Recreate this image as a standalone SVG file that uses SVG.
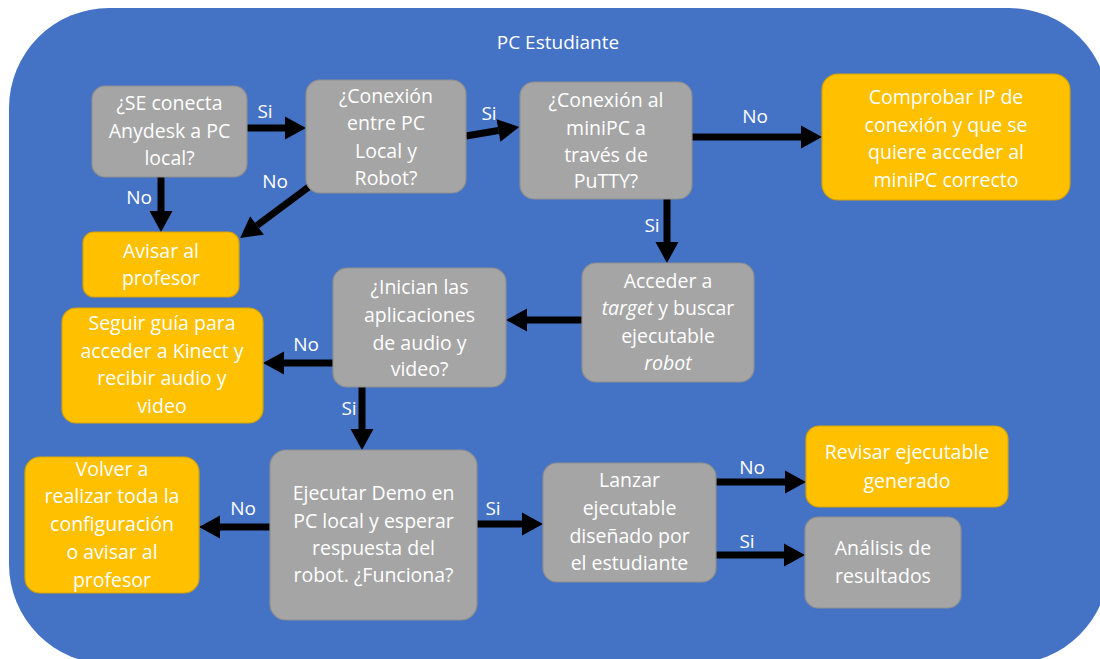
<svg xmlns="http://www.w3.org/2000/svg" width="1100" height="659" viewBox="0 0 1100 659">
  <defs>
    <style>
      .bg { fill: #4472C4; }
      .q { fill: #A5A5A5; stroke: #8F8F8F; stroke-width: 1.2; }
      .a { fill: #FFC000; stroke: #D9A400; stroke-width: 1.2; }
      text { font-family: "Open Sans", "Liberation Sans", Arial, sans-serif; font-size: 19.5px; fill: #FFFFFF; text-anchor: middle; }
      .title { font-size: 19px; }
      .lbl { font-size: 19px; }
      .edge { stroke: #000000; stroke-width: 7; fill: none; marker-end: url(#head); }
    </style>
    <marker id="head" markerUnits="userSpaceOnUse" markerWidth="22" markerHeight="24" refX="0" refY="11.5" orient="auto" overflow="visible">
      <path d="M0,0 L21,11.5 L0,23 Z" fill="#000000"/>
    </marker>
  </defs>

  <!-- container -->
  <rect class="bg" x="9" y="8" width="1100" height="656" rx="100" ry="100"/>
  <text class="title" x="558" y="49">PC Estudiante</text>

  <!-- connectors -->
  <g id="connectors">
    <line class="edge" x1="247" y1="128" x2="285" y2="128"/>
    <line class="edge" x1="161" y1="177" x2="161" y2="211"/>
    <line class="edge" x1="310" y1="186" x2="257" y2="225.5"/>
    <line class="edge" x1="466" y1="136" x2="498.5" y2="130.5"/>
    <line class="edge" x1="692" y1="137" x2="801" y2="137"/>
    <line class="edge" x1="667" y1="199" x2="667" y2="242"/>
    <line class="edge" x1="582" y1="320" x2="527" y2="320"/>
    <line class="edge" x1="333" y1="363" x2="284" y2="363"/>
    <line class="edge" x1="362" y1="387" x2="362" y2="429"/>
    <line class="edge" x1="270" y1="527" x2="220" y2="527"/>
    <line class="edge" x1="477" y1="524" x2="522" y2="524"/>
    <line class="edge" x1="716" y1="482" x2="785" y2="482"/>
    <line class="edge" x1="716" y1="555" x2="784" y2="555"/>

    <text class="lbl" x="265" y="118">Si</text>
    <text class="lbl" x="139" y="204">No</text>
    <text class="lbl" x="275" y="188">No</text>
    <text class="lbl" x="489" y="120">Si</text>
    <text class="lbl" x="755" y="123">No</text>
    <text class="lbl" x="652" y="232">Si</text>
    <text class="lbl" x="306" y="351">No</text>
    <text class="lbl" x="349" y="415">Si</text>
    <text class="lbl" x="243" y="515">No</text>
    <text class="lbl" x="493" y="515">Si</text>
    <text class="lbl" x="752" y="474">No</text>
    <text class="lbl" x="747" y="548">Si</text>
  </g>

  <g id="anydesk">
    <rect class="q" x="92" y="86" width="155" height="91" rx="13"/>
    <text x="169.5" y="110">¿SE conecta</text>
    <text x="169.5" y="138">Anydesk a PC</text>
    <text x="169.5" y="165">local?</text>
  </g>

  <g id="pc-robot">
    <rect class="q" x="306" y="80" width="160" height="113" rx="14"/>
    <text x="386" y="103">¿Conexión</text>
    <text x="386" y="130">entre PC</text>
    <text x="386" y="158">Local y</text>
    <text x="386" y="185">Robot?</text>
  </g>

  <g id="putty">
    <rect class="q" x="520" y="82" width="172" height="117" rx="14"/>
    <text x="606" y="107">¿Conexión al</text>
    <text x="606" y="135">miniPC a</text>
    <text x="606" y="162">través de</text>
    <text x="606" y="188">PuTTY?</text>
  </g>

  <g id="check-ip">
    <rect class="a" x="822" y="74" width="248" height="126" rx="16"/>
    <text x="946" y="104">Comprobar IP de</text>
    <text x="946" y="132">conexión y que se</text>
    <text x="946" y="159">quiere acceder al</text>
    <text x="946" y="187">miniPC correcto</text>
  </g>

  <g id="avisar">
    <rect class="a" x="83" y="232" width="156" height="65" rx="11"/>
    <text x="161" y="258">Avisar al</text>
    <text x="161" y="285">profesor</text>
  </g>

  <g id="target">
    <rect class="q" x="582" y="263" width="172" height="119" rx="14"/>
    <text x="668" y="288">Acceder a</text>
    <text x="668" y="315"><tspan font-style="italic">target</tspan> y buscar</text>
    <text x="668" y="343">ejecutable</text>
    <text x="668" y="370" font-style="italic">robot</text>
  </g>

  <g id="apps">
    <rect class="q" x="333" y="268" width="173" height="119" rx="14"/>
    <text x="419.5" y="294">¿Inician las</text>
    <text x="419.5" y="322">aplicaciones</text>
    <text x="419.5" y="350">de audio y</text>
    <text x="419.5" y="376">video?</text>
  </g>

  <g id="kinect">
    <rect class="a" x="62" y="308" width="201" height="115" rx="14"/>
    <text x="162" y="330">Seguir guía para</text>
    <text x="162" y="358">acceder a Kinect y</text>
    <text x="162" y="385">recibir audio y</text>
    <text x="162" y="413">video</text>
  </g>

  <g id="demo">
    <rect class="q" x="270" y="450" width="207" height="170" rx="16"/>
    <text x="373.5" y="500">Ejecutar Demo en</text>
    <text x="373.5" y="528">PC local y esperar</text>
    <text x="373.5" y="555">respuesta del</text>
    <text x="373.5" y="582">robot. ¿Funciona?</text>
  </g>

  <g id="volver">
    <rect class="a" x="25" y="457" width="174" height="136" rx="15"/>
    <text x="112" y="476">Volver a</text>
    <text x="112" y="503">realizar toda la</text>
    <text x="112" y="531">configuración</text>
    <text x="112" y="559">o avisar al</text>
    <text x="112" y="587">profesor</text>
  </g>

  <g id="lanzar">
    <rect class="q" x="543" y="463" width="173" height="119" rx="14"/>
    <text x="629.5" y="487">Lanzar</text>
    <text x="629.5" y="515">ejecutable</text>
    <text x="629.5" y="543">diseñado por</text>
    <text x="629.5" y="570">el estudiante</text>
  </g>

  <g id="revisar">
    <rect class="a" x="806" y="426" width="202" height="81" rx="13"/>
    <text x="907" y="459">Revisar ejecutable</text>
    <text x="907" y="488">generado</text>
  </g>

  <g id="analisis">
    <rect class="q" x="805" y="517" width="156" height="91" rx="13"/>
    <text x="883" y="555">Análisis de</text>
    <text x="883" y="583">resultados</text>
  </g>
</svg>
